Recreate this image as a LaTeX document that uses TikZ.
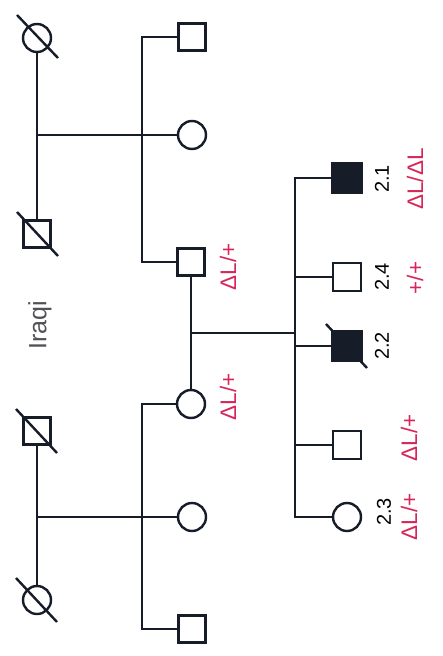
\documentclass[tikz,border=0pt]{standalone}
\usepackage{fontspec}
\setmainfont{Liberation Sans}
\definecolor{ink}{RGB}{22,28,40}
\definecolor{gred}{RGB}{215,38,90}
\definecolor{gray1}{RGB}{80,80,85}
\begin{document}
\begin{tikzpicture}[x=1pt,y=-1pt,
  sq/.style={draw=ink,line width=2.4pt,minimum size=27pt,inner sep=0pt,fill=white},
  sqa/.style={sq,fill=ink,minimum size=29pt},
  ci/.style={circle,draw=ink,line width=2.4pt,minimum size=28pt,inner sep=0pt,fill=white},
  ln/.style={draw=ink,line width=1.7pt},
  sl/.style={draw=ink,line width=2.4pt},
  geno/.style={text=gred,font=\fontsize{22.5}{22.5}\selectfont,rotate=90,inner sep=0pt},
  idl/.style={text=black,font=\fontsize{20}{20}\selectfont,rotate=90,inner sep=0pt}]
\useasboundingbox (0,0) rectangle (443,656);
\fill[white] (0,0) rectangle (443,656);
% Generation I
\node[ci] (Ia) at (37,38) {};
\node[sq] (Ib) at (37,234) {};
\node[sq] (Ic) at (37,431) {};
\node[ci] (Id) at (37,600) {};
\draw[sl] (17,15) -- (58,58);
\draw[sl] (17,212) -- (58,256);
\draw[sl] (16,409) -- (57,453);
\draw[sl] (16,578) -- (57,622);
\draw[ln] (Ia) -- (Ib);
\draw[ln] (Ic) -- (Id);
\coordinate (m1) at (37,135);
\coordinate (s1) at (142,135);
\coordinate (m2) at (37,517);
\coordinate (s2) at (142,517);
\draw[ln] (m1) -- (s1);
\draw[ln] (m2) -- (s2);
% Generation II
\node[sq] (IIa) at (192,37) {};
\node[ci] (IIb) at (192,135) {};
\node[sq] (IIc) at (191,262) {};
\node[ci] (IId) at (191,404) {};
\node[ci] (IIe) at (192,517) {};
\node[sq] (IIf) at (192,629) {};
\draw[ln] (IIa.west) -| (s1) |- (IIc.west);
\draw[ln] (s1) -- (IIb.west);
\draw[ln] (IId.west) -| (s2) |- (IIf.west);
\draw[ln] (s2) -- (IIe.west);
\draw[ln] (IIc) -- (IId);
\coordinate (m3) at (191,333);
\coordinate (s3) at (295,333);
\draw[ln] (m3) -- (s3);
% Generation III
\node[sqa] (c1) at (347,178) {};
\node[sq,minimum size=28pt] (c2) at (347,277) {};
\draw[sl] (326,324) -- (367,368);
\node[sqa] (c3) at (347,346) {};
\node[sq,minimum size=28pt] (c4) at (347,445) {};
\node[ci] (c5) at (347,517) {};
\draw[ln] (c1.west) -| (s3) |- (c5.west);
\draw[ln] (c2.west) -- (c2.west -| s3);
\draw[ln] (c3.west) -- (c3.west -| s3);
\draw[ln] (c4.west) -- (c4.west -| s3);
% labels
\node[text=gray1,font=\fontsize{25}{25}\selectfont,rotate=90,inner sep=0pt] (lab0) at (40,325) {Iraqi};
\node[geno] (g1) at (228,267) {ΔL/+};
\node[geno] (g2) at (228,397) {ΔL/+};
\node[idl] (n1) at (382,179) {2.1};
\node[geno] (g3) at (415,179) {ΔL/ΔL};
\node[idl] (n4) at (382,277) {2.4};
\node[geno] (g4) at (415,278) {+/+};
\node[idl] (n2) at (382,346) {2.2};
\node[idl] (n3) at (384,512) {2.3};
\node[geno] (g5) at (409,517) {ΔL/+};
\node[geno] (g6) at (409,438) {ΔL/+};
\end{tikzpicture}
\end{document}
